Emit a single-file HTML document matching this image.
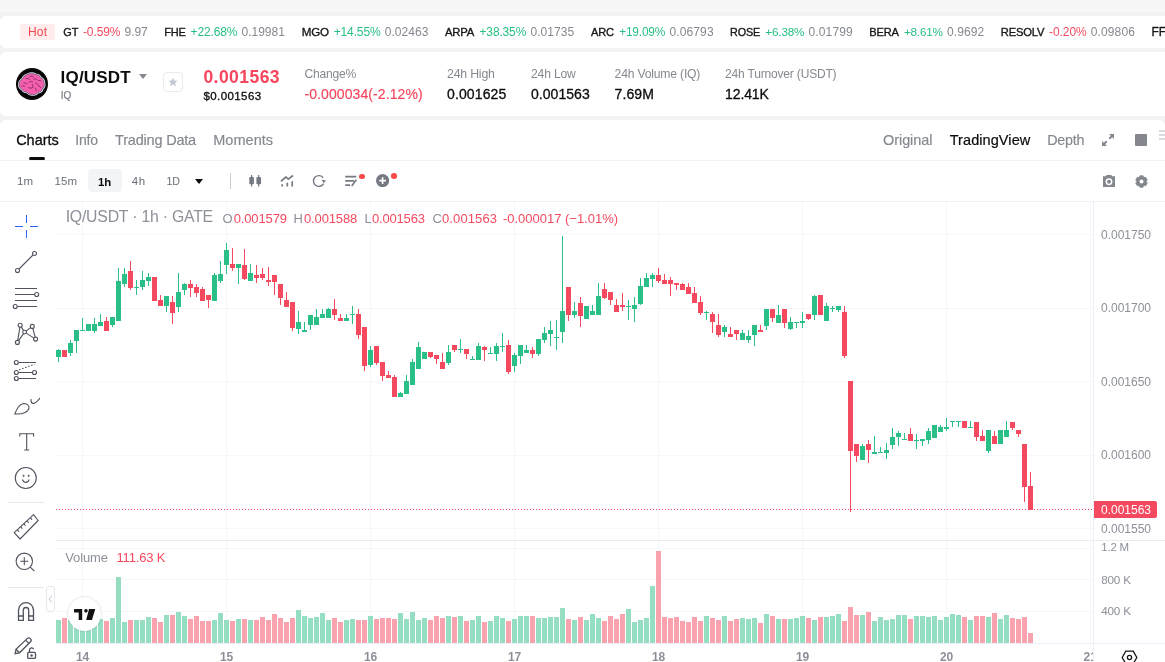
<!DOCTYPE html>
<html><head><meta charset="utf-8"><title>IQ/USDT</title>
<style>
html,body{margin:0;padding:0;}
body{width:1165px;height:662px;overflow:hidden;background:#f2f3f5;font-family:"Liberation Sans",sans-serif;}
#p{will-change:transform;position:relative;width:1165px;height:662px;overflow:hidden;background:#f2f3f5;}
.t{position:absolute;white-space:nowrap;display:block;}
.r{position:absolute;display:block;}
</style></head><body><div id="p">
<div class="r" style="left:0px;top:0px;width:1165px;height:12px;background:#f7f7f8;"></div>
<div class="r" style="left:0px;top:16px;width:1175px;height:32px;background:#fff;border-radius:6px;"></div>
<div class="r" style="left:0px;top:52px;width:1175px;height:64px;background:#fff;border-radius:6px;"></div>
<div class="r" style="left:0px;top:120px;width:1165px;height:560px;background:#fff;border-radius:6px 6px 0 0;"></div>
<div class="r" style="left:20px;top:24px;width:35px;height:16px;background:#ffecec;border-radius:3px;"></div>
<span class="t" style="left:28.00px;top:24.00px;font-size:12px;line-height:16px;color:#f4484c;letter-spacing:0.163px;">Hot</span>
<span class="t" style="left:63.30px;top:24.00px;font-size:10.9px;line-height:16px;color:#15171a;letter-spacing:-0.137px;-webkit-text-stroke:0.35px #15171a;">GT</span>
<span class="t" style="left:82.90px;top:24.00px;font-size:12px;line-height:16px;color:#f5495f;letter-spacing:-0.084px;">-0.59%</span>
<span class="t" style="left:124.60px;top:24.00px;font-size:12px;line-height:16px;color:#84888f;letter-spacing:-0.052px;">9.97</span>
<span class="t" style="left:164.30px;top:24.00px;font-size:11.0px;line-height:16px;color:#15171a;letter-spacing:-0.200px;-webkit-text-stroke:0.35px #15171a;">FHE</span>
<span class="t" style="left:190.60px;top:24.00px;font-size:12px;line-height:16px;color:#26bf82;letter-spacing:-0.151px;">+22.68%</span>
<span class="t" style="left:241.50px;top:24.00px;font-size:12px;line-height:16px;color:#84888f;letter-spacing:-0.013px;">0.19981</span>
<span class="t" style="left:301.80px;top:24.00px;font-size:11.6px;line-height:16px;color:#15171a;letter-spacing:-0.204px;-webkit-text-stroke:0.35px #15171a;">MGO</span>
<span class="t" style="left:333.70px;top:24.00px;font-size:12px;line-height:16px;color:#26bf82;letter-spacing:-0.135px;">+14.55%</span>
<span class="t" style="left:384.70px;top:24.00px;font-size:12px;line-height:16px;color:#84888f;letter-spacing:0.070px;">0.02463</span>
<span class="t" style="left:445.00px;top:24.00px;font-size:11.3px;line-height:16px;color:#15171a;letter-spacing:-0.211px;-webkit-text-stroke:0.35px #15171a;">ARPA</span>
<span class="t" style="left:479.50px;top:24.00px;font-size:12px;line-height:16px;color:#26bf82;letter-spacing:-0.151px;">+38.35%</span>
<span class="t" style="left:530.50px;top:24.00px;font-size:12px;line-height:16px;color:#84888f;letter-spacing:0.054px;">0.01735</span>
<span class="t" style="left:591.00px;top:24.00px;font-size:11.1px;line-height:16px;color:#15171a;letter-spacing:-0.168px;-webkit-text-stroke:0.35px #15171a;">ARC</span>
<span class="t" style="left:619.20px;top:24.00px;font-size:11.9px;line-height:16px;color:#26bf82;letter-spacing:-0.185px;">+19.09%</span>
<span class="t" style="left:669.40px;top:24.00px;font-size:12px;line-height:16px;color:#84888f;letter-spacing:0.137px;">0.06793</span>
<span class="t" style="left:730.10px;top:24.00px;font-size:10.8px;line-height:16px;color:#15171a;letter-spacing:-0.136px;-webkit-text-stroke:0.35px #15171a;">ROSE</span>
<span class="t" style="left:765.30px;top:24.00px;font-size:11.7px;line-height:16px;color:#26bf82;letter-spacing:-0.162px;">+6.38%</span>
<span class="t" style="left:808.50px;top:24.00px;font-size:12px;line-height:16px;color:#84888f;letter-spacing:0.137px;">0.01799</span>
<span class="t" style="left:869.20px;top:24.00px;font-size:11.1px;line-height:16px;color:#15171a;letter-spacing:-0.176px;-webkit-text-stroke:0.35px #15171a;">BERA</span>
<span class="t" style="left:903.90px;top:24.00px;font-size:11.7px;line-height:16px;color:#26bf82;letter-spacing:-0.182px;">+8.61%</span>
<span class="t" style="left:947.10px;top:24.00px;font-size:12px;line-height:16px;color:#84888f;letter-spacing:0.079px;">0.9692</span>
<span class="t" style="left:1000.80px;top:24.00px;font-size:11.2px;line-height:16px;color:#15171a;letter-spacing:-0.182px;-webkit-text-stroke:0.35px #15171a;">RESOLV</span>
<span class="t" style="left:1049.00px;top:24.00px;font-size:12px;line-height:16px;color:#f5495f;letter-spacing:-0.064px;">-0.20%</span>
<span class="t" style="left:1090.70px;top:24.00px;font-size:12px;line-height:16px;color:#84888f;letter-spacing:0.137px;">0.09806</span>
<span class="t" style="left:1151.40px;top:24.00px;font-size:12px;line-height:16px;color:#15171a;letter-spacing:-0.061px;-webkit-text-stroke:0.35px #15171a;">FF</span>
<svg class="r" style="left:16.300px;top:68px" width="32" height="32" viewBox="0 0 32 32">
<circle cx="16" cy="16" r="16" fill="#060607"/>
<path d="M12.15 6.08Q8.00 6.88 6.41 10.75Q2.80 13.19 3.09 16.53Q2.67 19.48 6.13 21.47Q7.10 24.20 11.01 24.23Q13.48 27.42 16.75 26.69Q20.04 27.47 21.92 24.50Q25.79 23.94 26.51 20.92Q29.35 18.19 28.23 14.87Q28.38 11.57 24.79 9.65Q23.43 6.42 19.62 6.35Q15.90 4.22 12.15 6.08Z" fill="#f45fae" stroke="#e9f1f4" stroke-width="1.900" stroke-linejoin="round"/>
<path d="M12.15 6.08Q8.00 6.88 6.41 10.75Q2.80 13.19 3.09 16.53Q2.67 19.48 6.13 21.47Q7.10 24.20 11.01 24.23Q13.48 27.42 16.75 26.69Q20.04 27.47 21.92 24.50Q25.79 23.94 26.51 20.92Q29.35 18.19 28.23 14.87Q28.38 11.57 24.79 9.65Q23.43 6.42 19.62 6.35Q15.90 4.22 12.15 6.08Z" fill="#f45fae" stroke="#164a5c" stroke-width=".5" stroke-linejoin="round"/>
<path d="M10 10.500c1.500-.4 2.700 0 3.600.9M14 8.500c1.200-.6 2.500-.4 3.400.4M17.500 11c1.400-.6 3-.2 3.900 1M8 15c1.300-.3 2.400.1 3.100 1M13 14.500c.9-1 2.300-1.300 3.500-.7M16.500 16.500c.7 1.200.5 2.400-.3 3.300M19.500 15c1.300.2 2.200 1 2.500 2.200M12.500 19.500c1 .8 2.300.9 3.400.3M19 20c.9.600 1.400 1.500 1.300 2.600M22.500 18c1 .1 1.800.6 2.300 1.500M6 18c1-.5 2-.3 2.800.3M22.500 12.500c.9-.3 1.800 0 2.500.6" fill="none" stroke="#4a1035" stroke-width=".6" stroke-linecap="round"/>
</svg>
<span class="t" style="left:60.60px;top:66.70px;font-size:17px;line-height:21px;color:#0b0c0e;font-weight:700;letter-spacing:0.192px;">IQ/USDT</span>
<div class="r" style="left:139px;top:74px;width:0;height:0;border-left:4px solid transparent;border-right:4px solid transparent;border-top:5px solid #84888f;"></div>
<span class="t" style="left:60.80px;top:88.25px;font-size:10.1px;line-height:15.5px;color:#7b7f87;letter-spacing:-0.162px;-webkit-text-stroke:0.2px #7b7f87;">IQ</span>
<div class="r" style="left:163px;top:72px;width:20px;height:20px;background:#fff;border:1px solid #e9ebf0;border-radius:4px;box-sizing:border-box;"></div>
<svg class="r" style="left:168px;top:77px" width="10" height="10" viewBox="0 0 24 24"><path d="M12 1.500l3.200 7 7.600.8-5.700 5.100 1.600 7.500L12 18l-6.700 3.900 1.600-7.500L1.200 9.300l7.600-.8z" fill="#c5c8d6"/></svg>
<span class="t" style="left:203.40px;top:66.55px;font-size:17.5px;line-height:21.5px;color:#f5465d;font-weight:700;letter-spacing:0.458px;">0.001563</span>
<span class="t" style="left:203.40px;top:88.55px;font-size:11.5px;line-height:15.5px;color:#0b0c0e;letter-spacing:0.417px;-webkit-text-stroke:0.3px #0b0c0e;">$0.001563</span>
<span class="t" style="left:304.40px;top:65.75px;font-size:12.1px;line-height:16.5px;color:#84888f;letter-spacing:-0.191px;">Change%</span>
<span class="t" style="left:304.40px;top:84.50px;font-size:14px;line-height:18px;color:#f5465d;letter-spacing:0.091px;-webkit-text-stroke:0.15px #f5465d;">-0.000034(-2.12%)</span>
<span class="t" style="left:447.00px;top:65.75px;font-size:12.3px;line-height:16.5px;color:#84888f;letter-spacing:-0.191px;">24h High</span>
<span class="t" style="left:447.00px;top:84.50px;font-size:14px;line-height:18px;color:#0b0c0e;letter-spacing:0.129px;-webkit-text-stroke:0.3px #0b0c0e;">0.001625</span>
<span class="t" style="left:531.00px;top:65.75px;font-size:12.1px;line-height:16.5px;color:#84888f;letter-spacing:-0.158px;">24h Low</span>
<span class="t" style="left:531.00px;top:84.50px;font-size:14px;line-height:18px;color:#0b0c0e;letter-spacing:0.044px;-webkit-text-stroke:0.3px #0b0c0e;">0.001563</span>
<span class="t" style="left:614.60px;top:65.75px;font-size:12.2px;line-height:16.5px;color:#84888f;letter-spacing:-0.210px;">24h Volume (IQ)</span>
<span class="t" style="left:614.60px;top:84.50px;font-size:14px;line-height:18px;color:#0b0c0e;letter-spacing:0.072px;-webkit-text-stroke:0.3px #0b0c0e;">7.69M</span>
<span class="t" style="left:725.10px;top:65.75px;font-size:12.0px;line-height:16.5px;color:#84888f;letter-spacing:-0.178px;">24h Turnover (USDT)</span>
<span class="t" style="left:725.10px;top:84.50px;font-size:14px;line-height:18px;color:#0b0c0e;letter-spacing:-0.135px;-webkit-text-stroke:0.3px #0b0c0e;">12.41K</span>
<span class="t" style="left:16.20px;top:130.75px;font-size:14.5px;line-height:18.5px;color:#0b0c0e;letter-spacing:-0.042px;-webkit-text-stroke:0.3px #0b0c0e;">Charts</span>
<span class="t" style="left:75.30px;top:130.75px;font-size:14.0px;line-height:18.5px;color:#84888f;letter-spacing:-0.184px;-webkit-text-stroke:0.15px #84888f;">Info</span>
<span class="t" style="left:115.10px;top:130.75px;font-size:14.5px;line-height:18.5px;color:#84888f;letter-spacing:-0.199px;-webkit-text-stroke:0.15px #84888f;">Trading Data</span>
<span class="t" style="left:213.20px;top:130.75px;font-size:14.5px;line-height:18.5px;color:#84888f;letter-spacing:0.045px;-webkit-text-stroke:0.15px #84888f;">Moments</span>
<div class="r" style="left:29px;top:157px;width:16px;height:3px;background:#0b0c0e;border-radius:1.5px;"></div>
<div class="r" style="left:0px;top:160px;width:1165px;height:1px;background:#f0f2f4;"></div>
<span class="t" style="left:883.00px;top:130.75px;font-size:14.5px;line-height:18.5px;color:#84888f;letter-spacing:-0.067px;-webkit-text-stroke:0.15px #84888f;">Original</span>
<span class="t" style="left:949.70px;top:130.75px;font-size:14.5px;line-height:18.5px;color:#0b0c0e;letter-spacing:0.080px;-webkit-text-stroke:0.2px #0b0c0e;">TradingView</span>
<span class="t" style="left:1047.20px;top:130.75px;font-size:14.3px;line-height:18.5px;color:#84888f;letter-spacing:-0.215px;-webkit-text-stroke:0.15px #84888f;">Depth</span>
<svg class="r" style="left:1102px;top:134px" width="12" height="12" viewBox="0 0 12 12"><path d="M7 0h5v5l-1.800-1.800L8 5.400 6.600 4 8.800 1.800zM5 12H0V7l1.800 1.800L4 6.600 5.400 8 3.200 10.200z" fill="#84888e"/></svg>
<div class="r" style="left:1135px;top:134px;width:12px;height:12px;background:#84888e;border-radius:1px;"></div>
<div class="r" style="left:1159px;top:130px;width:8px;height:2px;background:#d8dbe2;"></div>
<div class="r" style="left:1159px;top:134px;width:8px;height:2px;background:#d8dbe2;"></div>
<div class="r" style="left:1159px;top:138px;width:8px;height:2px;background:#d8dbe2;"></div>
<span class="t" style="left:17.00px;top:174.25px;font-size:11.5px;line-height:15.5px;color:#6b6f78;letter-spacing:0.224px;">1m</span>
<span class="t" style="left:54.50px;top:174.25px;font-size:11.5px;line-height:15.5px;color:#6b6f78;letter-spacing:0.164px;">15m</span>
<div class="r" style="left:88px;top:169px;width:34px;height:23px;background:#f3f4f6;border-radius:4px;"></div>
<span class="t" style="left:98.10px;top:173.50px;font-size:11.4px;line-height:16px;color:#0b0c0e;font-weight:700;letter-spacing:-0.204px;">1h</span>
<span class="t" style="left:131.70px;top:174.25px;font-size:11.5px;line-height:15.5px;color:#6b6f78;letter-spacing:0.708px;">4h</span>
<span class="t" style="left:166.50px;top:174.25px;font-size:10.7px;line-height:15.5px;color:#6b6f78;letter-spacing:-0.178px;">1D</span>
<div class="r" style="left:195px;top:179px;width:0;height:0;border-left:4px solid transparent;border-right:4px solid transparent;border-top:5px solid #0b0c0e;"></div>
<div class="r" style="left:230px;top:173px;width:1px;height:16px;background:#c9ccd3;"></div>
<svg class="r" style="left:248px;top:174px" width="14" height="14" viewBox="0 0 14 14" fill="#757982"><rect x="1.300" y="3" width="4.600" height="7.300" rx=".8"/><rect x="3" y="1" width="1.200" height="11.600"/><rect x="8.400" y="3" width="4.600" height="7.300" rx=".8"/><rect x="10.100" y="1" width="1.200" height="11.600"/></svg>
<svg class="r" style="left:280px;top:174px" width="14" height="14" viewBox="0 0 14 14" fill="none" stroke="#757982" stroke-width="1.700"><path d="M.9 7.400L6 3l2.300 2.200L13 1.500" stroke-linejoin="round"/><path d="M2.200 12.600v-2.300M7.300 12.600V8.800M12.200 12.600V7.200" stroke-width="1.700"/></svg>
<svg class="r" style="left:312px;top:174px" width="14" height="14" viewBox="0 0 14 14" fill="none" stroke="#757982" stroke-width="1.400"><path d="M11.600 9.600A5.400 5.400 0 1 1 11.300 3.900"/><path d="M9.600 5.800l4.200.4-2 3z" fill="#757982" stroke="none"/></svg>
<svg class="r" style="left:344px;top:174px" width="15" height="14" viewBox="0 0 15 14" fill="none" stroke="#757982" stroke-width="1.600"><path d="M1.200 2.600h11.100M1.200 6.900H10M1.200 11.100h4.900"/><path d="M7.700 11.900l4.600-6.200" stroke-width="1.700"/></svg>
<div class="r" style="left:359.3px;top:173.5px;width:5.6px;height:5.6px;background:#f84c4c;border-radius:50%;"></div>
<svg class="r" style="left:376px;top:174.300px" width="13.200" height="13.200" viewBox="0 0 12 12"><circle cx="6" cy="6" r="6" fill="#757982"/><path d="M6 3v6M3 6h6" stroke="#fff" stroke-width="1.500"/></svg>
<div class="r" style="left:391.2px;top:173.2px;width:5.6px;height:5.6px;background:#f84c4c;border-radius:50%;"></div>
<svg class="r" style="left:1103px;top:175px" width="12" height="12" viewBox="0 0 12 12"><path d="M3.600 0h4.800l.6 1.300H12V12H0V1.300h3z" fill="#83878d"/><circle cx="6" cy="6.700" r="2.700" fill="none" stroke="#fff" stroke-width="1.500"/></svg>
<svg class="r" style="left:1134.500px;top:174.500px" width="13" height="13" viewBox="-6.500 -6.500 13 13"><polygon points="1.55,-5.80 -1.55,-5.80 -2.35,-4.07 -4.24,-4.24 -5.80,-1.55 -4.70,-0.00 -5.80,1.55 -4.24,4.24 -2.35,4.07 -1.55,5.80 1.55,5.80 2.35,4.07 4.24,4.24 5.80,1.55 4.70,0.00 5.80,-1.55 4.24,-4.24 2.35,-4.07" fill="#83878d" stroke="#83878d" stroke-width=".7" stroke-linejoin="round"/><circle r="2" fill="#fff"/></svg>
<div class="r" style="left:0px;top:201px;width:1165px;height:1px;background:#f0f2f4;"></div>
<svg class="r" style="left:0;top:0" width="1165" height="662" viewBox="0 0 1165 662" shape-rendering="crispEdges"><rect x="82" y="202" width="1" height="441" fill="#f6f7fb"/><rect x="226" y="202" width="1" height="441" fill="#f6f7fb"/><rect x="370" y="202" width="1" height="441" fill="#f6f7fb"/><rect x="514" y="202" width="1" height="441" fill="#f6f7fb"/><rect x="658" y="202" width="1" height="441" fill="#f6f7fb"/><rect x="802" y="202" width="1" height="441" fill="#f6f7fb"/><rect x="946" y="202" width="1" height="441" fill="#f6f7fb"/><rect x="1090" y="202" width="1" height="441" fill="#f6f7fb"/><rect x="56" y="234" width="1037" height="1" fill="#f6f7fb"/><rect x="56" y="308" width="1037" height="1" fill="#f6f7fb"/><rect x="56" y="381" width="1037" height="1" fill="#f6f7fb"/><rect x="56" y="455" width="1037" height="1" fill="#f6f7fb"/><rect x="56" y="528" width="1037" height="1" fill="#f6f7fb"/><rect x="56" y="548" width="1037" height="1" fill="#f6f7fb"/><rect x="56" y="579" width="1037" height="1" fill="#f6f7fb"/><rect x="56" y="611" width="1037" height="1" fill="#f6f7fb"/><rect x="1093" y="202" width="1" height="460" fill="#eceff9"/><rect x="56" y="643" width="1109" height="1" fill="#eceff9"/><rect x="56" y="540" width="1109" height="1" fill="#ebebed"/><rect x="56" y="620" width="5" height="23" fill="#95dec2"/><rect x="62" y="618" width="5" height="25" fill="#faa3ae"/><rect x="68" y="620" width="5" height="23" fill="#95dec2"/><rect x="74" y="619" width="5" height="24" fill="#95dec2"/><rect x="80" y="620" width="5" height="23" fill="#95dec2"/><rect x="86" y="621" width="5" height="22" fill="#95dec2"/><rect x="92" y="620" width="5" height="23" fill="#95dec2"/><rect x="98" y="619" width="5" height="24" fill="#95dec2"/><rect x="104" y="621" width="5" height="22" fill="#faa3ae"/><rect x="110" y="618" width="5" height="25" fill="#95dec2"/><rect x="116" y="577" width="5" height="66" fill="#95dec2"/><rect x="122" y="622" width="5" height="21" fill="#95dec2"/><rect x="128" y="620" width="5" height="23" fill="#faa3ae"/><rect x="134" y="620" width="5" height="23" fill="#95dec2"/><rect x="140" y="620" width="5" height="23" fill="#95dec2"/><rect x="146" y="617" width="5" height="26" fill="#95dec2"/><rect x="152" y="618" width="5" height="25" fill="#faa3ae"/><rect x="158" y="622" width="5" height="21" fill="#faa3ae"/><rect x="164" y="615" width="5" height="28" fill="#95dec2"/><rect x="170" y="615" width="5" height="28" fill="#faa3ae"/><rect x="176" y="612" width="5" height="31" fill="#95dec2"/><rect x="182" y="616" width="5" height="27" fill="#95dec2"/><rect x="188" y="619" width="5" height="24" fill="#faa3ae"/><rect x="194" y="616" width="5" height="27" fill="#faa3ae"/><rect x="200" y="621" width="5" height="22" fill="#faa3ae"/><rect x="206" y="621" width="5" height="22" fill="#faa3ae"/><rect x="212" y="620" width="5" height="23" fill="#95dec2"/><rect x="218" y="613" width="5" height="30" fill="#95dec2"/><rect x="224" y="620" width="5" height="23" fill="#95dec2"/><rect x="230" y="621" width="5" height="22" fill="#faa3ae"/><rect x="236" y="619" width="5" height="24" fill="#95dec2"/><rect x="242" y="619" width="5" height="24" fill="#faa3ae"/><rect x="248" y="620" width="5" height="23" fill="#95dec2"/><rect x="254" y="620" width="5" height="23" fill="#faa3ae"/><rect x="260" y="617" width="5" height="26" fill="#faa3ae"/><rect x="266" y="620" width="5" height="23" fill="#faa3ae"/><rect x="272" y="614" width="5" height="29" fill="#faa3ae"/><rect x="278" y="618" width="5" height="25" fill="#faa3ae"/><rect x="284" y="622" width="5" height="21" fill="#faa3ae"/><rect x="290" y="618" width="5" height="25" fill="#faa3ae"/><rect x="296" y="610" width="5" height="33" fill="#95dec2"/><rect x="302" y="616" width="5" height="27" fill="#95dec2"/><rect x="308" y="618" width="5" height="25" fill="#95dec2"/><rect x="314" y="617" width="5" height="26" fill="#95dec2"/><rect x="320" y="613" width="5" height="30" fill="#95dec2"/><rect x="326" y="620" width="5" height="23" fill="#95dec2"/><rect x="332" y="618" width="5" height="25" fill="#faa3ae"/><rect x="338" y="622" width="5" height="21" fill="#faa3ae"/><rect x="344" y="620" width="5" height="23" fill="#95dec2"/><rect x="350" y="619" width="5" height="24" fill="#95dec2"/><rect x="356" y="620" width="5" height="23" fill="#faa3ae"/><rect x="362" y="620" width="5" height="23" fill="#faa3ae"/><rect x="368" y="616" width="5" height="27" fill="#95dec2"/><rect x="374" y="619" width="5" height="24" fill="#faa3ae"/><rect x="380" y="618" width="5" height="25" fill="#faa3ae"/><rect x="386" y="618" width="5" height="25" fill="#faa3ae"/><rect x="392" y="619" width="5" height="24" fill="#faa3ae"/><rect x="398" y="613" width="5" height="30" fill="#95dec2"/><rect x="404" y="619" width="5" height="24" fill="#95dec2"/><rect x="410" y="612" width="5" height="31" fill="#95dec2"/><rect x="416" y="620" width="5" height="23" fill="#95dec2"/><rect x="422" y="618" width="5" height="25" fill="#95dec2"/><rect x="428" y="620" width="5" height="23" fill="#faa3ae"/><rect x="434" y="616" width="5" height="27" fill="#faa3ae"/><rect x="440" y="618" width="5" height="25" fill="#faa3ae"/><rect x="446" y="616" width="5" height="27" fill="#95dec2"/><rect x="452" y="617" width="5" height="26" fill="#faa3ae"/><rect x="458" y="616" width="5" height="27" fill="#95dec2"/><rect x="464" y="621" width="5" height="22" fill="#faa3ae"/><rect x="470" y="620" width="5" height="23" fill="#95dec2"/><rect x="476" y="616" width="5" height="27" fill="#95dec2"/><rect x="482" y="622" width="5" height="21" fill="#faa3ae"/><rect x="488" y="621" width="5" height="22" fill="#95dec2"/><rect x="494" y="616" width="5" height="27" fill="#95dec2"/><rect x="500" y="618" width="5" height="25" fill="#95dec2"/><rect x="506" y="621" width="5" height="22" fill="#faa3ae"/><rect x="512" y="619" width="5" height="24" fill="#95dec2"/><rect x="518" y="616" width="5" height="27" fill="#95dec2"/><rect x="524" y="616" width="5" height="27" fill="#95dec2"/><rect x="530" y="616" width="5" height="27" fill="#faa3ae"/><rect x="536" y="618" width="5" height="25" fill="#95dec2"/><rect x="542" y="618" width="5" height="25" fill="#95dec2"/><rect x="548" y="617" width="5" height="26" fill="#95dec2"/><rect x="554" y="617" width="5" height="26" fill="#95dec2"/><rect x="560" y="608" width="5" height="35" fill="#95dec2"/><rect x="566" y="619" width="5" height="24" fill="#faa3ae"/><rect x="572" y="620" width="5" height="23" fill="#95dec2"/><rect x="578" y="617" width="5" height="26" fill="#faa3ae"/><rect x="584" y="620" width="5" height="23" fill="#95dec2"/><rect x="590" y="614" width="5" height="29" fill="#95dec2"/><rect x="596" y="618" width="5" height="25" fill="#95dec2"/><rect x="602" y="621" width="5" height="22" fill="#faa3ae"/><rect x="608" y="616" width="5" height="27" fill="#faa3ae"/><rect x="614" y="619" width="5" height="24" fill="#faa3ae"/><rect x="620" y="614" width="5" height="29" fill="#faa3ae"/><rect x="626" y="609" width="5" height="34" fill="#95dec2"/><rect x="632" y="622" width="5" height="21" fill="#95dec2"/><rect x="638" y="620" width="5" height="23" fill="#95dec2"/><rect x="644" y="618" width="5" height="25" fill="#95dec2"/><rect x="650" y="586" width="5" height="57" fill="#95dec2"/><rect x="656" y="551" width="5" height="92" fill="#faa3ae"/><rect x="662" y="617" width="5" height="26" fill="#faa3ae"/><rect x="668" y="618" width="5" height="25" fill="#faa3ae"/><rect x="674" y="617" width="5" height="26" fill="#faa3ae"/><rect x="680" y="621" width="5" height="22" fill="#faa3ae"/><rect x="686" y="622" width="5" height="21" fill="#faa3ae"/><rect x="692" y="617" width="5" height="26" fill="#faa3ae"/><rect x="698" y="621" width="5" height="22" fill="#faa3ae"/><rect x="704" y="616" width="5" height="27" fill="#95dec2"/><rect x="710" y="618" width="5" height="25" fill="#faa3ae"/><rect x="716" y="620" width="5" height="23" fill="#faa3ae"/><rect x="722" y="616" width="5" height="27" fill="#95dec2"/><rect x="728" y="621" width="5" height="22" fill="#faa3ae"/><rect x="734" y="619" width="5" height="24" fill="#faa3ae"/><rect x="740" y="618" width="5" height="25" fill="#95dec2"/><rect x="746" y="619" width="5" height="24" fill="#95dec2"/><rect x="752" y="618" width="5" height="25" fill="#95dec2"/><rect x="758" y="623" width="5" height="20" fill="#faa3ae"/><rect x="764" y="614" width="5" height="29" fill="#95dec2"/><rect x="770" y="616" width="5" height="27" fill="#faa3ae"/><rect x="776" y="619" width="5" height="24" fill="#95dec2"/><rect x="782" y="619" width="5" height="24" fill="#faa3ae"/><rect x="788" y="619" width="5" height="24" fill="#95dec2"/><rect x="794" y="618" width="5" height="25" fill="#95dec2"/><rect x="800" y="616" width="5" height="27" fill="#95dec2"/><rect x="806" y="618" width="5" height="25" fill="#faa3ae"/><rect x="812" y="620" width="5" height="23" fill="#95dec2"/><rect x="818" y="617" width="5" height="26" fill="#faa3ae"/><rect x="824" y="617" width="5" height="26" fill="#95dec2"/><rect x="830" y="616" width="5" height="27" fill="#95dec2"/><rect x="836" y="614" width="5" height="29" fill="#95dec2"/><rect x="842" y="621" width="5" height="22" fill="#faa3ae"/><rect x="848" y="607" width="5" height="36" fill="#faa3ae"/><rect x="854" y="615" width="5" height="28" fill="#faa3ae"/><rect x="860" y="615" width="5" height="28" fill="#95dec2"/><rect x="866" y="612" width="5" height="31" fill="#faa3ae"/><rect x="872" y="621" width="5" height="22" fill="#95dec2"/><rect x="878" y="617" width="5" height="26" fill="#95dec2"/><rect x="884" y="620" width="5" height="23" fill="#95dec2"/><rect x="890" y="619" width="5" height="24" fill="#95dec2"/><rect x="896" y="615" width="5" height="28" fill="#95dec2"/><rect x="902" y="615" width="5" height="28" fill="#95dec2"/><rect x="908" y="619" width="5" height="24" fill="#faa3ae"/><rect x="914" y="616" width="5" height="27" fill="#95dec2"/><rect x="920" y="616" width="5" height="27" fill="#95dec2"/><rect x="926" y="617" width="5" height="26" fill="#95dec2"/><rect x="932" y="616" width="5" height="27" fill="#95dec2"/><rect x="938" y="620" width="5" height="23" fill="#95dec2"/><rect x="944" y="617" width="5" height="26" fill="#95dec2"/><rect x="950" y="614" width="5" height="29" fill="#95dec2"/><rect x="956" y="615" width="5" height="28" fill="#95dec2"/><rect x="962" y="617" width="5" height="26" fill="#faa3ae"/><rect x="968" y="620" width="5" height="23" fill="#95dec2"/><rect x="974" y="616" width="5" height="27" fill="#faa3ae"/><rect x="980" y="616" width="5" height="27" fill="#faa3ae"/><rect x="986" y="617" width="5" height="26" fill="#95dec2"/><rect x="992" y="613" width="5" height="30" fill="#faa3ae"/><rect x="998" y="619" width="5" height="24" fill="#95dec2"/><rect x="1004" y="615" width="5" height="28" fill="#95dec2"/><rect x="1010" y="618" width="5" height="25" fill="#faa3ae"/><rect x="1016" y="619" width="5" height="24" fill="#faa3ae"/><rect x="1022" y="617" width="5" height="26" fill="#faa3ae"/><rect x="1028" y="633" width="5" height="10" fill="#faa3ae"/><rect x="56" y="509" width="1" height="1" fill="#f5495f"/><rect x="59" y="509" width="1" height="1" fill="#f5495f"/><rect x="62" y="509" width="1" height="1" fill="#f5495f"/><rect x="65" y="509" width="1" height="1" fill="#f5495f"/><rect x="68" y="509" width="1" height="1" fill="#f5495f"/><rect x="71" y="509" width="1" height="1" fill="#f5495f"/><rect x="74" y="509" width="1" height="1" fill="#f5495f"/><rect x="77" y="509" width="1" height="1" fill="#f5495f"/><rect x="80" y="509" width="1" height="1" fill="#f5495f"/><rect x="83" y="509" width="1" height="1" fill="#f5495f"/><rect x="86" y="509" width="1" height="1" fill="#f5495f"/><rect x="89" y="509" width="1" height="1" fill="#f5495f"/><rect x="92" y="509" width="1" height="1" fill="#f5495f"/><rect x="95" y="509" width="1" height="1" fill="#f5495f"/><rect x="98" y="509" width="1" height="1" fill="#f5495f"/><rect x="101" y="509" width="1" height="1" fill="#f5495f"/><rect x="104" y="509" width="1" height="1" fill="#f5495f"/><rect x="107" y="509" width="1" height="1" fill="#f5495f"/><rect x="110" y="509" width="1" height="1" fill="#f5495f"/><rect x="113" y="509" width="1" height="1" fill="#f5495f"/><rect x="116" y="509" width="1" height="1" fill="#f5495f"/><rect x="119" y="509" width="1" height="1" fill="#f5495f"/><rect x="122" y="509" width="1" height="1" fill="#f5495f"/><rect x="125" y="509" width="1" height="1" fill="#f5495f"/><rect x="128" y="509" width="1" height="1" fill="#f5495f"/><rect x="131" y="509" width="1" height="1" fill="#f5495f"/><rect x="134" y="509" width="1" height="1" fill="#f5495f"/><rect x="137" y="509" width="1" height="1" fill="#f5495f"/><rect x="140" y="509" width="1" height="1" fill="#f5495f"/><rect x="143" y="509" width="1" height="1" fill="#f5495f"/><rect x="146" y="509" width="1" height="1" fill="#f5495f"/><rect x="149" y="509" width="1" height="1" fill="#f5495f"/><rect x="152" y="509" width="1" height="1" fill="#f5495f"/><rect x="155" y="509" width="1" height="1" fill="#f5495f"/><rect x="158" y="509" width="1" height="1" fill="#f5495f"/><rect x="161" y="509" width="1" height="1" fill="#f5495f"/><rect x="164" y="509" width="1" height="1" fill="#f5495f"/><rect x="167" y="509" width="1" height="1" fill="#f5495f"/><rect x="170" y="509" width="1" height="1" fill="#f5495f"/><rect x="173" y="509" width="1" height="1" fill="#f5495f"/><rect x="176" y="509" width="1" height="1" fill="#f5495f"/><rect x="179" y="509" width="1" height="1" fill="#f5495f"/><rect x="182" y="509" width="1" height="1" fill="#f5495f"/><rect x="185" y="509" width="1" height="1" fill="#f5495f"/><rect x="188" y="509" width="1" height="1" fill="#f5495f"/><rect x="191" y="509" width="1" height="1" fill="#f5495f"/><rect x="194" y="509" width="1" height="1" fill="#f5495f"/><rect x="197" y="509" width="1" height="1" fill="#f5495f"/><rect x="200" y="509" width="1" height="1" fill="#f5495f"/><rect x="203" y="509" width="1" height="1" fill="#f5495f"/><rect x="206" y="509" width="1" height="1" fill="#f5495f"/><rect x="209" y="509" width="1" height="1" fill="#f5495f"/><rect x="212" y="509" width="1" height="1" fill="#f5495f"/><rect x="215" y="509" width="1" height="1" fill="#f5495f"/><rect x="218" y="509" width="1" height="1" fill="#f5495f"/><rect x="221" y="509" width="1" height="1" fill="#f5495f"/><rect x="224" y="509" width="1" height="1" fill="#f5495f"/><rect x="227" y="509" width="1" height="1" fill="#f5495f"/><rect x="230" y="509" width="1" height="1" fill="#f5495f"/><rect x="233" y="509" width="1" height="1" fill="#f5495f"/><rect x="236" y="509" width="1" height="1" fill="#f5495f"/><rect x="239" y="509" width="1" height="1" fill="#f5495f"/><rect x="242" y="509" width="1" height="1" fill="#f5495f"/><rect x="245" y="509" width="1" height="1" fill="#f5495f"/><rect x="248" y="509" width="1" height="1" fill="#f5495f"/><rect x="251" y="509" width="1" height="1" fill="#f5495f"/><rect x="254" y="509" width="1" height="1" fill="#f5495f"/><rect x="257" y="509" width="1" height="1" fill="#f5495f"/><rect x="260" y="509" width="1" height="1" fill="#f5495f"/><rect x="263" y="509" width="1" height="1" fill="#f5495f"/><rect x="266" y="509" width="1" height="1" fill="#f5495f"/><rect x="269" y="509" width="1" height="1" fill="#f5495f"/><rect x="272" y="509" width="1" height="1" fill="#f5495f"/><rect x="275" y="509" width="1" height="1" fill="#f5495f"/><rect x="278" y="509" width="1" height="1" fill="#f5495f"/><rect x="281" y="509" width="1" height="1" fill="#f5495f"/><rect x="284" y="509" width="1" height="1" fill="#f5495f"/><rect x="287" y="509" width="1" height="1" fill="#f5495f"/><rect x="290" y="509" width="1" height="1" fill="#f5495f"/><rect x="293" y="509" width="1" height="1" fill="#f5495f"/><rect x="296" y="509" width="1" height="1" fill="#f5495f"/><rect x="299" y="509" width="1" height="1" fill="#f5495f"/><rect x="302" y="509" width="1" height="1" fill="#f5495f"/><rect x="305" y="509" width="1" height="1" fill="#f5495f"/><rect x="308" y="509" width="1" height="1" fill="#f5495f"/><rect x="311" y="509" width="1" height="1" fill="#f5495f"/><rect x="314" y="509" width="1" height="1" fill="#f5495f"/><rect x="317" y="509" width="1" height="1" fill="#f5495f"/><rect x="320" y="509" width="1" height="1" fill="#f5495f"/><rect x="323" y="509" width="1" height="1" fill="#f5495f"/><rect x="326" y="509" width="1" height="1" fill="#f5495f"/><rect x="329" y="509" width="1" height="1" fill="#f5495f"/><rect x="332" y="509" width="1" height="1" fill="#f5495f"/><rect x="335" y="509" width="1" height="1" fill="#f5495f"/><rect x="338" y="509" width="1" height="1" fill="#f5495f"/><rect x="341" y="509" width="1" height="1" fill="#f5495f"/><rect x="344" y="509" width="1" height="1" fill="#f5495f"/><rect x="347" y="509" width="1" height="1" fill="#f5495f"/><rect x="350" y="509" width="1" height="1" fill="#f5495f"/><rect x="353" y="509" width="1" height="1" fill="#f5495f"/><rect x="356" y="509" width="1" height="1" fill="#f5495f"/><rect x="359" y="509" width="1" height="1" fill="#f5495f"/><rect x="362" y="509" width="1" height="1" fill="#f5495f"/><rect x="365" y="509" width="1" height="1" fill="#f5495f"/><rect x="368" y="509" width="1" height="1" fill="#f5495f"/><rect x="371" y="509" width="1" height="1" fill="#f5495f"/><rect x="374" y="509" width="1" height="1" fill="#f5495f"/><rect x="377" y="509" width="1" height="1" fill="#f5495f"/><rect x="380" y="509" width="1" height="1" fill="#f5495f"/><rect x="383" y="509" width="1" height="1" fill="#f5495f"/><rect x="386" y="509" width="1" height="1" fill="#f5495f"/><rect x="389" y="509" width="1" height="1" fill="#f5495f"/><rect x="392" y="509" width="1" height="1" fill="#f5495f"/><rect x="395" y="509" width="1" height="1" fill="#f5495f"/><rect x="398" y="509" width="1" height="1" fill="#f5495f"/><rect x="401" y="509" width="1" height="1" fill="#f5495f"/><rect x="404" y="509" width="1" height="1" fill="#f5495f"/><rect x="407" y="509" width="1" height="1" fill="#f5495f"/><rect x="410" y="509" width="1" height="1" fill="#f5495f"/><rect x="413" y="509" width="1" height="1" fill="#f5495f"/><rect x="416" y="509" width="1" height="1" fill="#f5495f"/><rect x="419" y="509" width="1" height="1" fill="#f5495f"/><rect x="422" y="509" width="1" height="1" fill="#f5495f"/><rect x="425" y="509" width="1" height="1" fill="#f5495f"/><rect x="428" y="509" width="1" height="1" fill="#f5495f"/><rect x="431" y="509" width="1" height="1" fill="#f5495f"/><rect x="434" y="509" width="1" height="1" fill="#f5495f"/><rect x="437" y="509" width="1" height="1" fill="#f5495f"/><rect x="440" y="509" width="1" height="1" fill="#f5495f"/><rect x="443" y="509" width="1" height="1" fill="#f5495f"/><rect x="446" y="509" width="1" height="1" fill="#f5495f"/><rect x="449" y="509" width="1" height="1" fill="#f5495f"/><rect x="452" y="509" width="1" height="1" fill="#f5495f"/><rect x="455" y="509" width="1" height="1" fill="#f5495f"/><rect x="458" y="509" width="1" height="1" fill="#f5495f"/><rect x="461" y="509" width="1" height="1" fill="#f5495f"/><rect x="464" y="509" width="1" height="1" fill="#f5495f"/><rect x="467" y="509" width="1" height="1" fill="#f5495f"/><rect x="470" y="509" width="1" height="1" fill="#f5495f"/><rect x="473" y="509" width="1" height="1" fill="#f5495f"/><rect x="476" y="509" width="1" height="1" fill="#f5495f"/><rect x="479" y="509" width="1" height="1" fill="#f5495f"/><rect x="482" y="509" width="1" height="1" fill="#f5495f"/><rect x="485" y="509" width="1" height="1" fill="#f5495f"/><rect x="488" y="509" width="1" height="1" fill="#f5495f"/><rect x="491" y="509" width="1" height="1" fill="#f5495f"/><rect x="494" y="509" width="1" height="1" fill="#f5495f"/><rect x="497" y="509" width="1" height="1" fill="#f5495f"/><rect x="500" y="509" width="1" height="1" fill="#f5495f"/><rect x="503" y="509" width="1" height="1" fill="#f5495f"/><rect x="506" y="509" width="1" height="1" fill="#f5495f"/><rect x="509" y="509" width="1" height="1" fill="#f5495f"/><rect x="512" y="509" width="1" height="1" fill="#f5495f"/><rect x="515" y="509" width="1" height="1" fill="#f5495f"/><rect x="518" y="509" width="1" height="1" fill="#f5495f"/><rect x="521" y="509" width="1" height="1" fill="#f5495f"/><rect x="524" y="509" width="1" height="1" fill="#f5495f"/><rect x="527" y="509" width="1" height="1" fill="#f5495f"/><rect x="530" y="509" width="1" height="1" fill="#f5495f"/><rect x="533" y="509" width="1" height="1" fill="#f5495f"/><rect x="536" y="509" width="1" height="1" fill="#f5495f"/><rect x="539" y="509" width="1" height="1" fill="#f5495f"/><rect x="542" y="509" width="1" height="1" fill="#f5495f"/><rect x="545" y="509" width="1" height="1" fill="#f5495f"/><rect x="548" y="509" width="1" height="1" fill="#f5495f"/><rect x="551" y="509" width="1" height="1" fill="#f5495f"/><rect x="554" y="509" width="1" height="1" fill="#f5495f"/><rect x="557" y="509" width="1" height="1" fill="#f5495f"/><rect x="560" y="509" width="1" height="1" fill="#f5495f"/><rect x="563" y="509" width="1" height="1" fill="#f5495f"/><rect x="566" y="509" width="1" height="1" fill="#f5495f"/><rect x="569" y="509" width="1" height="1" fill="#f5495f"/><rect x="572" y="509" width="1" height="1" fill="#f5495f"/><rect x="575" y="509" width="1" height="1" fill="#f5495f"/><rect x="578" y="509" width="1" height="1" fill="#f5495f"/><rect x="581" y="509" width="1" height="1" fill="#f5495f"/><rect x="584" y="509" width="1" height="1" fill="#f5495f"/><rect x="587" y="509" width="1" height="1" fill="#f5495f"/><rect x="590" y="509" width="1" height="1" fill="#f5495f"/><rect x="593" y="509" width="1" height="1" fill="#f5495f"/><rect x="596" y="509" width="1" height="1" fill="#f5495f"/><rect x="599" y="509" width="1" height="1" fill="#f5495f"/><rect x="602" y="509" width="1" height="1" fill="#f5495f"/><rect x="605" y="509" width="1" height="1" fill="#f5495f"/><rect x="608" y="509" width="1" height="1" fill="#f5495f"/><rect x="611" y="509" width="1" height="1" fill="#f5495f"/><rect x="614" y="509" width="1" height="1" fill="#f5495f"/><rect x="617" y="509" width="1" height="1" fill="#f5495f"/><rect x="620" y="509" width="1" height="1" fill="#f5495f"/><rect x="623" y="509" width="1" height="1" fill="#f5495f"/><rect x="626" y="509" width="1" height="1" fill="#f5495f"/><rect x="629" y="509" width="1" height="1" fill="#f5495f"/><rect x="632" y="509" width="1" height="1" fill="#f5495f"/><rect x="635" y="509" width="1" height="1" fill="#f5495f"/><rect x="638" y="509" width="1" height="1" fill="#f5495f"/><rect x="641" y="509" width="1" height="1" fill="#f5495f"/><rect x="644" y="509" width="1" height="1" fill="#f5495f"/><rect x="647" y="509" width="1" height="1" fill="#f5495f"/><rect x="650" y="509" width="1" height="1" fill="#f5495f"/><rect x="653" y="509" width="1" height="1" fill="#f5495f"/><rect x="656" y="509" width="1" height="1" fill="#f5495f"/><rect x="659" y="509" width="1" height="1" fill="#f5495f"/><rect x="662" y="509" width="1" height="1" fill="#f5495f"/><rect x="665" y="509" width="1" height="1" fill="#f5495f"/><rect x="668" y="509" width="1" height="1" fill="#f5495f"/><rect x="671" y="509" width="1" height="1" fill="#f5495f"/><rect x="674" y="509" width="1" height="1" fill="#f5495f"/><rect x="677" y="509" width="1" height="1" fill="#f5495f"/><rect x="680" y="509" width="1" height="1" fill="#f5495f"/><rect x="683" y="509" width="1" height="1" fill="#f5495f"/><rect x="686" y="509" width="1" height="1" fill="#f5495f"/><rect x="689" y="509" width="1" height="1" fill="#f5495f"/><rect x="692" y="509" width="1" height="1" fill="#f5495f"/><rect x="695" y="509" width="1" height="1" fill="#f5495f"/><rect x="698" y="509" width="1" height="1" fill="#f5495f"/><rect x="701" y="509" width="1" height="1" fill="#f5495f"/><rect x="704" y="509" width="1" height="1" fill="#f5495f"/><rect x="707" y="509" width="1" height="1" fill="#f5495f"/><rect x="710" y="509" width="1" height="1" fill="#f5495f"/><rect x="713" y="509" width="1" height="1" fill="#f5495f"/><rect x="716" y="509" width="1" height="1" fill="#f5495f"/><rect x="719" y="509" width="1" height="1" fill="#f5495f"/><rect x="722" y="509" width="1" height="1" fill="#f5495f"/><rect x="725" y="509" width="1" height="1" fill="#f5495f"/><rect x="728" y="509" width="1" height="1" fill="#f5495f"/><rect x="731" y="509" width="1" height="1" fill="#f5495f"/><rect x="734" y="509" width="1" height="1" fill="#f5495f"/><rect x="737" y="509" width="1" height="1" fill="#f5495f"/><rect x="740" y="509" width="1" height="1" fill="#f5495f"/><rect x="743" y="509" width="1" height="1" fill="#f5495f"/><rect x="746" y="509" width="1" height="1" fill="#f5495f"/><rect x="749" y="509" width="1" height="1" fill="#f5495f"/><rect x="752" y="509" width="1" height="1" fill="#f5495f"/><rect x="755" y="509" width="1" height="1" fill="#f5495f"/><rect x="758" y="509" width="1" height="1" fill="#f5495f"/><rect x="761" y="509" width="1" height="1" fill="#f5495f"/><rect x="764" y="509" width="1" height="1" fill="#f5495f"/><rect x="767" y="509" width="1" height="1" fill="#f5495f"/><rect x="770" y="509" width="1" height="1" fill="#f5495f"/><rect x="773" y="509" width="1" height="1" fill="#f5495f"/><rect x="776" y="509" width="1" height="1" fill="#f5495f"/><rect x="779" y="509" width="1" height="1" fill="#f5495f"/><rect x="782" y="509" width="1" height="1" fill="#f5495f"/><rect x="785" y="509" width="1" height="1" fill="#f5495f"/><rect x="788" y="509" width="1" height="1" fill="#f5495f"/><rect x="791" y="509" width="1" height="1" fill="#f5495f"/><rect x="794" y="509" width="1" height="1" fill="#f5495f"/><rect x="797" y="509" width="1" height="1" fill="#f5495f"/><rect x="800" y="509" width="1" height="1" fill="#f5495f"/><rect x="803" y="509" width="1" height="1" fill="#f5495f"/><rect x="806" y="509" width="1" height="1" fill="#f5495f"/><rect x="809" y="509" width="1" height="1" fill="#f5495f"/><rect x="812" y="509" width="1" height="1" fill="#f5495f"/><rect x="815" y="509" width="1" height="1" fill="#f5495f"/><rect x="818" y="509" width="1" height="1" fill="#f5495f"/><rect x="821" y="509" width="1" height="1" fill="#f5495f"/><rect x="824" y="509" width="1" height="1" fill="#f5495f"/><rect x="827" y="509" width="1" height="1" fill="#f5495f"/><rect x="830" y="509" width="1" height="1" fill="#f5495f"/><rect x="833" y="509" width="1" height="1" fill="#f5495f"/><rect x="836" y="509" width="1" height="1" fill="#f5495f"/><rect x="839" y="509" width="1" height="1" fill="#f5495f"/><rect x="842" y="509" width="1" height="1" fill="#f5495f"/><rect x="845" y="509" width="1" height="1" fill="#f5495f"/><rect x="848" y="509" width="1" height="1" fill="#f5495f"/><rect x="851" y="509" width="1" height="1" fill="#f5495f"/><rect x="854" y="509" width="1" height="1" fill="#f5495f"/><rect x="857" y="509" width="1" height="1" fill="#f5495f"/><rect x="860" y="509" width="1" height="1" fill="#f5495f"/><rect x="863" y="509" width="1" height="1" fill="#f5495f"/><rect x="866" y="509" width="1" height="1" fill="#f5495f"/><rect x="869" y="509" width="1" height="1" fill="#f5495f"/><rect x="872" y="509" width="1" height="1" fill="#f5495f"/><rect x="875" y="509" width="1" height="1" fill="#f5495f"/><rect x="878" y="509" width="1" height="1" fill="#f5495f"/><rect x="881" y="509" width="1" height="1" fill="#f5495f"/><rect x="884" y="509" width="1" height="1" fill="#f5495f"/><rect x="887" y="509" width="1" height="1" fill="#f5495f"/><rect x="890" y="509" width="1" height="1" fill="#f5495f"/><rect x="893" y="509" width="1" height="1" fill="#f5495f"/><rect x="896" y="509" width="1" height="1" fill="#f5495f"/><rect x="899" y="509" width="1" height="1" fill="#f5495f"/><rect x="902" y="509" width="1" height="1" fill="#f5495f"/><rect x="905" y="509" width="1" height="1" fill="#f5495f"/><rect x="908" y="509" width="1" height="1" fill="#f5495f"/><rect x="911" y="509" width="1" height="1" fill="#f5495f"/><rect x="914" y="509" width="1" height="1" fill="#f5495f"/><rect x="917" y="509" width="1" height="1" fill="#f5495f"/><rect x="920" y="509" width="1" height="1" fill="#f5495f"/><rect x="923" y="509" width="1" height="1" fill="#f5495f"/><rect x="926" y="509" width="1" height="1" fill="#f5495f"/><rect x="929" y="509" width="1" height="1" fill="#f5495f"/><rect x="932" y="509" width="1" height="1" fill="#f5495f"/><rect x="935" y="509" width="1" height="1" fill="#f5495f"/><rect x="938" y="509" width="1" height="1" fill="#f5495f"/><rect x="941" y="509" width="1" height="1" fill="#f5495f"/><rect x="944" y="509" width="1" height="1" fill="#f5495f"/><rect x="947" y="509" width="1" height="1" fill="#f5495f"/><rect x="950" y="509" width="1" height="1" fill="#f5495f"/><rect x="953" y="509" width="1" height="1" fill="#f5495f"/><rect x="956" y="509" width="1" height="1" fill="#f5495f"/><rect x="959" y="509" width="1" height="1" fill="#f5495f"/><rect x="962" y="509" width="1" height="1" fill="#f5495f"/><rect x="965" y="509" width="1" height="1" fill="#f5495f"/><rect x="968" y="509" width="1" height="1" fill="#f5495f"/><rect x="971" y="509" width="1" height="1" fill="#f5495f"/><rect x="974" y="509" width="1" height="1" fill="#f5495f"/><rect x="977" y="509" width="1" height="1" fill="#f5495f"/><rect x="980" y="509" width="1" height="1" fill="#f5495f"/><rect x="983" y="509" width="1" height="1" fill="#f5495f"/><rect x="986" y="509" width="1" height="1" fill="#f5495f"/><rect x="989" y="509" width="1" height="1" fill="#f5495f"/><rect x="992" y="509" width="1" height="1" fill="#f5495f"/><rect x="995" y="509" width="1" height="1" fill="#f5495f"/><rect x="998" y="509" width="1" height="1" fill="#f5495f"/><rect x="1001" y="509" width="1" height="1" fill="#f5495f"/><rect x="1004" y="509" width="1" height="1" fill="#f5495f"/><rect x="1007" y="509" width="1" height="1" fill="#f5495f"/><rect x="1010" y="509" width="1" height="1" fill="#f5495f"/><rect x="1013" y="509" width="1" height="1" fill="#f5495f"/><rect x="1016" y="509" width="1" height="1" fill="#f5495f"/><rect x="1019" y="509" width="1" height="1" fill="#f5495f"/><rect x="1022" y="509" width="1" height="1" fill="#f5495f"/><rect x="1025" y="509" width="1" height="1" fill="#f5495f"/><rect x="1028" y="509" width="1" height="1" fill="#f5495f"/><rect x="1031" y="509" width="1" height="1" fill="#f5495f"/><rect x="1034" y="509" width="1" height="1" fill="#f5495f"/><rect x="1037" y="509" width="1" height="1" fill="#f5495f"/><rect x="1040" y="509" width="1" height="1" fill="#f5495f"/><rect x="1043" y="509" width="1" height="1" fill="#f5495f"/><rect x="1046" y="509" width="1" height="1" fill="#f5495f"/><rect x="1049" y="509" width="1" height="1" fill="#f5495f"/><rect x="1052" y="509" width="1" height="1" fill="#f5495f"/><rect x="1055" y="509" width="1" height="1" fill="#f5495f"/><rect x="1058" y="509" width="1" height="1" fill="#f5495f"/><rect x="1061" y="509" width="1" height="1" fill="#f5495f"/><rect x="1064" y="509" width="1" height="1" fill="#f5495f"/><rect x="1067" y="509" width="1" height="1" fill="#f5495f"/><rect x="1070" y="509" width="1" height="1" fill="#f5495f"/><rect x="1073" y="509" width="1" height="1" fill="#f5495f"/><rect x="1076" y="509" width="1" height="1" fill="#f5495f"/><rect x="1079" y="509" width="1" height="1" fill="#f5495f"/><rect x="1082" y="509" width="1" height="1" fill="#f5495f"/><rect x="1085" y="509" width="1" height="1" fill="#f5495f"/><rect x="1088" y="509" width="1" height="1" fill="#f5495f"/><rect x="1091" y="509" width="1" height="1" fill="#f5495f"/><rect x="58" y="349" width="1" height="13" fill="#2abf86"/><rect x="56" y="350" width="5" height="7" fill="#2abf86"/><rect x="64" y="350" width="1" height="7" fill="#f5495f"/><rect x="62" y="350" width="5" height="7" fill="#f5495f"/><rect x="70" y="340" width="1" height="16" fill="#2abf86"/><rect x="68" y="343" width="5" height="10" fill="#2abf86"/><rect x="76" y="330" width="1" height="23" fill="#2abf86"/><rect x="74" y="330" width="5" height="11" fill="#2abf86"/><rect x="82" y="318" width="1" height="13" fill="#2abf86"/><rect x="80" y="330" width="5" height="1" fill="#2abf86"/><rect x="88" y="324" width="1" height="7" fill="#2abf86"/><rect x="86" y="324" width="5" height="7" fill="#2abf86"/><rect x="94" y="318" width="1" height="15" fill="#2abf86"/><rect x="92" y="324" width="5" height="7" fill="#2abf86"/><rect x="100" y="314" width="1" height="12" fill="#2abf86"/><rect x="98" y="322" width="5" height="4" fill="#2abf86"/><rect x="106" y="317" width="1" height="14" fill="#f5495f"/><rect x="104" y="321" width="5" height="10" fill="#f5495f"/><rect x="112" y="317" width="1" height="10" fill="#2abf86"/><rect x="110" y="317" width="5" height="8" fill="#2abf86"/><rect x="118" y="268" width="1" height="53" fill="#2abf86"/><rect x="116" y="281" width="5" height="40" fill="#2abf86"/><rect x="124" y="268" width="1" height="19" fill="#2abf86"/><rect x="122" y="274" width="5" height="10" fill="#2abf86"/><rect x="130" y="261" width="1" height="29" fill="#f5495f"/><rect x="128" y="271" width="5" height="17" fill="#f5495f"/><rect x="136" y="280" width="1" height="15" fill="#2abf86"/><rect x="134" y="287" width="5" height="1" fill="#2abf86"/><rect x="142" y="271" width="1" height="19" fill="#2abf86"/><rect x="140" y="280" width="5" height="7" fill="#2abf86"/><rect x="148" y="273" width="1" height="13" fill="#2abf86"/><rect x="146" y="277" width="5" height="4" fill="#2abf86"/><rect x="154" y="277" width="1" height="24" fill="#f5495f"/><rect x="152" y="277" width="5" height="24" fill="#f5495f"/><rect x="160" y="295" width="1" height="11" fill="#f5495f"/><rect x="158" y="300" width="5" height="6" fill="#f5495f"/><rect x="166" y="296" width="1" height="16" fill="#2abf86"/><rect x="164" y="296" width="5" height="10" fill="#2abf86"/><rect x="172" y="296" width="1" height="28" fill="#f5495f"/><rect x="170" y="302" width="5" height="11" fill="#f5495f"/><rect x="178" y="273" width="1" height="39" fill="#2abf86"/><rect x="176" y="292" width="5" height="15" fill="#2abf86"/><rect x="184" y="283" width="1" height="12" fill="#2abf86"/><rect x="182" y="284" width="5" height="6" fill="#2abf86"/><rect x="190" y="280" width="1" height="17" fill="#f5495f"/><rect x="188" y="284" width="5" height="4" fill="#f5495f"/><rect x="196" y="284" width="1" height="13" fill="#f5495f"/><rect x="194" y="287" width="5" height="6" fill="#f5495f"/><rect x="202" y="287" width="1" height="14" fill="#f5495f"/><rect x="200" y="289" width="5" height="12" fill="#f5495f"/><rect x="208" y="295" width="1" height="13" fill="#f5495f"/><rect x="206" y="295" width="5" height="5" fill="#f5495f"/><rect x="214" y="273" width="1" height="28" fill="#2abf86"/><rect x="212" y="275" width="5" height="26" fill="#2abf86"/><rect x="220" y="261" width="1" height="22" fill="#2abf86"/><rect x="218" y="274" width="5" height="7" fill="#2abf86"/><rect x="226" y="243" width="1" height="31" fill="#2abf86"/><rect x="224" y="250" width="5" height="15" fill="#2abf86"/><rect x="232" y="248" width="1" height="23" fill="#f5495f"/><rect x="230" y="264" width="5" height="4" fill="#f5495f"/><rect x="238" y="264" width="1" height="20" fill="#2abf86"/><rect x="236" y="264" width="5" height="4" fill="#2abf86"/><rect x="244" y="249" width="1" height="31" fill="#f5495f"/><rect x="242" y="265" width="5" height="14" fill="#f5495f"/><rect x="250" y="264" width="1" height="17" fill="#2abf86"/><rect x="248" y="273" width="5" height="8" fill="#2abf86"/><rect x="256" y="265" width="1" height="18" fill="#f5495f"/><rect x="254" y="275" width="5" height="3" fill="#f5495f"/><rect x="262" y="268" width="1" height="12" fill="#f5495f"/><rect x="260" y="274" width="5" height="4" fill="#f5495f"/><rect x="268" y="267" width="1" height="19" fill="#f5495f"/><rect x="266" y="280" width="5" height="2" fill="#f5495f"/><rect x="274" y="275" width="1" height="20" fill="#f5495f"/><rect x="272" y="275" width="5" height="7" fill="#f5495f"/><rect x="280" y="284" width="1" height="21" fill="#f5495f"/><rect x="278" y="284" width="5" height="14" fill="#f5495f"/><rect x="286" y="292" width="1" height="15" fill="#f5495f"/><rect x="284" y="300" width="5" height="7" fill="#f5495f"/><rect x="292" y="302" width="1" height="29" fill="#f5495f"/><rect x="290" y="302" width="5" height="26" fill="#f5495f"/><rect x="298" y="311" width="1" height="23" fill="#2abf86"/><rect x="296" y="322" width="5" height="7" fill="#2abf86"/><rect x="304" y="322" width="1" height="10" fill="#2abf86"/><rect x="302" y="330" width="5" height="2" fill="#2abf86"/><rect x="310" y="315" width="1" height="15" fill="#2abf86"/><rect x="308" y="315" width="5" height="10" fill="#2abf86"/><rect x="316" y="309" width="1" height="16" fill="#2abf86"/><rect x="314" y="317" width="5" height="8" fill="#2abf86"/><rect x="322" y="309" width="1" height="9" fill="#2abf86"/><rect x="320" y="314" width="5" height="4" fill="#2abf86"/><rect x="328" y="308" width="1" height="10" fill="#2abf86"/><rect x="326" y="309" width="5" height="9" fill="#2abf86"/><rect x="334" y="299" width="1" height="21" fill="#f5495f"/><rect x="332" y="309" width="5" height="6" fill="#f5495f"/><rect x="340" y="314" width="1" height="7" fill="#f5495f"/><rect x="338" y="318" width="5" height="3" fill="#f5495f"/><rect x="346" y="314" width="1" height="7" fill="#2abf86"/><rect x="344" y="318" width="5" height="3" fill="#2abf86"/><rect x="352" y="306" width="1" height="18" fill="#2abf86"/><rect x="350" y="314" width="5" height="1" fill="#2abf86"/><rect x="358" y="309" width="1" height="30" fill="#f5495f"/><rect x="356" y="314" width="5" height="21" fill="#f5495f"/><rect x="364" y="327" width="1" height="44" fill="#f5495f"/><rect x="362" y="327" width="5" height="39" fill="#f5495f"/><rect x="370" y="346" width="1" height="21" fill="#2abf86"/><rect x="368" y="350" width="5" height="15" fill="#2abf86"/><rect x="376" y="346" width="1" height="19" fill="#f5495f"/><rect x="374" y="346" width="5" height="17" fill="#f5495f"/><rect x="382" y="362" width="1" height="19" fill="#f5495f"/><rect x="380" y="362" width="5" height="14" fill="#f5495f"/><rect x="388" y="371" width="1" height="7" fill="#f5495f"/><rect x="386" y="375" width="5" height="3" fill="#f5495f"/><rect x="394" y="375" width="1" height="22" fill="#f5495f"/><rect x="392" y="377" width="5" height="20" fill="#f5495f"/><rect x="400" y="392" width="1" height="5" fill="#2abf86"/><rect x="398" y="393" width="5" height="4" fill="#2abf86"/><rect x="406" y="375" width="1" height="19" fill="#2abf86"/><rect x="404" y="381" width="5" height="13" fill="#2abf86"/><rect x="412" y="359" width="1" height="26" fill="#2abf86"/><rect x="410" y="362" width="5" height="23" fill="#2abf86"/><rect x="418" y="342" width="1" height="27" fill="#2abf86"/><rect x="416" y="347" width="5" height="22" fill="#2abf86"/><rect x="424" y="352" width="1" height="7" fill="#2abf86"/><rect x="422" y="352" width="5" height="7" fill="#2abf86"/><rect x="430" y="352" width="1" height="6" fill="#f5495f"/><rect x="428" y="352" width="5" height="5" fill="#f5495f"/><rect x="436" y="355" width="1" height="9" fill="#f5495f"/><rect x="434" y="355" width="5" height="4" fill="#f5495f"/><rect x="442" y="353" width="1" height="16" fill="#f5495f"/><rect x="440" y="362" width="5" height="7" fill="#f5495f"/><rect x="448" y="345" width="1" height="20" fill="#2abf86"/><rect x="446" y="352" width="5" height="11" fill="#2abf86"/><rect x="454" y="345" width="1" height="7" fill="#f5495f"/><rect x="452" y="345" width="5" height="5" fill="#f5495f"/><rect x="460" y="339" width="1" height="14" fill="#2abf86"/><rect x="458" y="349" width="5" height="1" fill="#2abf86"/><rect x="466" y="349" width="1" height="10" fill="#f5495f"/><rect x="464" y="349" width="5" height="5" fill="#f5495f"/><rect x="472" y="356" width="1" height="4" fill="#2abf86"/><rect x="470" y="359" width="5" height="1" fill="#2abf86"/><rect x="478" y="343" width="1" height="17" fill="#2abf86"/><rect x="476" y="346" width="5" height="14" fill="#2abf86"/><rect x="484" y="346" width="1" height="15" fill="#f5495f"/><rect x="482" y="347" width="5" height="3" fill="#f5495f"/><rect x="490" y="347" width="1" height="7" fill="#2abf86"/><rect x="488" y="353" width="5" height="1" fill="#2abf86"/><rect x="496" y="343" width="1" height="18" fill="#2abf86"/><rect x="494" y="346" width="5" height="8" fill="#2abf86"/><rect x="502" y="333" width="1" height="19" fill="#2abf86"/><rect x="500" y="346" width="5" height="1" fill="#2abf86"/><rect x="508" y="340" width="1" height="34" fill="#f5495f"/><rect x="506" y="345" width="5" height="27" fill="#f5495f"/><rect x="514" y="353" width="1" height="19" fill="#2abf86"/><rect x="512" y="355" width="5" height="11" fill="#2abf86"/><rect x="520" y="345" width="1" height="19" fill="#2abf86"/><rect x="518" y="345" width="5" height="11" fill="#2abf86"/><rect x="526" y="345" width="1" height="8" fill="#2abf86"/><rect x="524" y="350" width="5" height="3" fill="#2abf86"/><rect x="532" y="347" width="1" height="11" fill="#f5495f"/><rect x="530" y="350" width="5" height="4" fill="#f5495f"/><rect x="538" y="339" width="1" height="17" fill="#2abf86"/><rect x="536" y="339" width="5" height="15" fill="#2abf86"/><rect x="544" y="327" width="1" height="16" fill="#2abf86"/><rect x="542" y="333" width="5" height="7" fill="#2abf86"/><rect x="550" y="321" width="1" height="25" fill="#2abf86"/><rect x="548" y="330" width="5" height="4" fill="#2abf86"/><rect x="556" y="320" width="1" height="30" fill="#2abf86"/><rect x="554" y="337" width="5" height="1" fill="#2abf86"/><rect x="562" y="236" width="1" height="107" fill="#2abf86"/><rect x="560" y="311" width="5" height="21" fill="#2abf86"/><rect x="568" y="287" width="1" height="34" fill="#f5495f"/><rect x="566" y="287" width="5" height="28" fill="#f5495f"/><rect x="574" y="302" width="1" height="16" fill="#2abf86"/><rect x="572" y="311" width="5" height="4" fill="#2abf86"/><rect x="580" y="297" width="1" height="30" fill="#f5495f"/><rect x="578" y="303" width="5" height="13" fill="#f5495f"/><rect x="586" y="306" width="1" height="13" fill="#2abf86"/><rect x="584" y="306" width="5" height="13" fill="#2abf86"/><rect x="592" y="305" width="1" height="10" fill="#2abf86"/><rect x="590" y="311" width="5" height="4" fill="#2abf86"/><rect x="598" y="283" width="1" height="32" fill="#2abf86"/><rect x="596" y="296" width="5" height="19" fill="#2abf86"/><rect x="604" y="283" width="1" height="16" fill="#f5495f"/><rect x="602" y="289" width="5" height="9" fill="#f5495f"/><rect x="610" y="292" width="1" height="13" fill="#f5495f"/><rect x="608" y="292" width="5" height="8" fill="#f5495f"/><rect x="616" y="299" width="1" height="13" fill="#f5495f"/><rect x="614" y="305" width="5" height="7" fill="#f5495f"/><rect x="622" y="293" width="1" height="18" fill="#f5495f"/><rect x="620" y="305" width="5" height="2" fill="#f5495f"/><rect x="628" y="300" width="1" height="20" fill="#2abf86"/><rect x="626" y="306" width="5" height="1" fill="#2abf86"/><rect x="634" y="297" width="1" height="25" fill="#2abf86"/><rect x="632" y="305" width="5" height="4" fill="#2abf86"/><rect x="640" y="278" width="1" height="27" fill="#2abf86"/><rect x="638" y="286" width="5" height="18" fill="#2abf86"/><rect x="646" y="273" width="1" height="14" fill="#2abf86"/><rect x="644" y="278" width="5" height="9" fill="#2abf86"/><rect x="652" y="273" width="1" height="14" fill="#2abf86"/><rect x="650" y="275" width="5" height="4" fill="#2abf86"/><rect x="658" y="268" width="1" height="15" fill="#f5495f"/><rect x="656" y="275" width="5" height="6" fill="#f5495f"/><rect x="664" y="274" width="1" height="10" fill="#f5495f"/><rect x="662" y="280" width="5" height="4" fill="#f5495f"/><rect x="670" y="277" width="1" height="19" fill="#f5495f"/><rect x="668" y="280" width="5" height="4" fill="#f5495f"/><rect x="676" y="283" width="1" height="7" fill="#f5495f"/><rect x="674" y="283" width="5" height="2" fill="#f5495f"/><rect x="682" y="283" width="1" height="7" fill="#f5495f"/><rect x="680" y="284" width="5" height="6" fill="#f5495f"/><rect x="688" y="283" width="1" height="11" fill="#f5495f"/><rect x="686" y="287" width="5" height="7" fill="#f5495f"/><rect x="694" y="287" width="1" height="16" fill="#f5495f"/><rect x="692" y="293" width="5" height="10" fill="#f5495f"/><rect x="700" y="296" width="1" height="19" fill="#f5495f"/><rect x="698" y="302" width="5" height="11" fill="#f5495f"/><rect x="706" y="311" width="1" height="9" fill="#2abf86"/><rect x="704" y="312" width="5" height="1" fill="#2abf86"/><rect x="712" y="312" width="1" height="21" fill="#f5495f"/><rect x="710" y="314" width="5" height="8" fill="#f5495f"/><rect x="718" y="314" width="1" height="23" fill="#f5495f"/><rect x="716" y="325" width="5" height="10" fill="#f5495f"/><rect x="724" y="325" width="1" height="12" fill="#2abf86"/><rect x="722" y="327" width="5" height="5" fill="#2abf86"/><rect x="730" y="327" width="1" height="10" fill="#f5495f"/><rect x="728" y="334" width="5" height="3" fill="#f5495f"/><rect x="736" y="330" width="1" height="10" fill="#f5495f"/><rect x="734" y="330" width="5" height="4" fill="#f5495f"/><rect x="742" y="330" width="1" height="10" fill="#2abf86"/><rect x="740" y="333" width="5" height="7" fill="#2abf86"/><rect x="748" y="330" width="1" height="13" fill="#2abf86"/><rect x="746" y="336" width="5" height="4" fill="#2abf86"/><rect x="754" y="325" width="1" height="21" fill="#2abf86"/><rect x="752" y="325" width="5" height="10" fill="#2abf86"/><rect x="760" y="325" width="1" height="7" fill="#f5495f"/><rect x="758" y="330" width="5" height="2" fill="#f5495f"/><rect x="766" y="309" width="1" height="21" fill="#2abf86"/><rect x="764" y="309" width="5" height="17" fill="#2abf86"/><rect x="772" y="309" width="1" height="13" fill="#f5495f"/><rect x="770" y="309" width="5" height="9" fill="#f5495f"/><rect x="778" y="305" width="1" height="18" fill="#2abf86"/><rect x="776" y="315" width="5" height="8" fill="#2abf86"/><rect x="784" y="309" width="1" height="19" fill="#f5495f"/><rect x="782" y="309" width="5" height="14" fill="#f5495f"/><rect x="790" y="317" width="1" height="13" fill="#2abf86"/><rect x="788" y="322" width="5" height="7" fill="#2abf86"/><rect x="796" y="322" width="1" height="6" fill="#2abf86"/><rect x="794" y="322" width="5" height="1" fill="#2abf86"/><rect x="802" y="312" width="1" height="16" fill="#2abf86"/><rect x="800" y="321" width="5" height="2" fill="#2abf86"/><rect x="808" y="314" width="1" height="6" fill="#f5495f"/><rect x="806" y="314" width="5" height="5" fill="#f5495f"/><rect x="814" y="295" width="1" height="25" fill="#2abf86"/><rect x="812" y="296" width="5" height="19" fill="#2abf86"/><rect x="820" y="295" width="1" height="20" fill="#f5495f"/><rect x="818" y="295" width="5" height="20" fill="#f5495f"/><rect x="826" y="303" width="1" height="18" fill="#2abf86"/><rect x="824" y="306" width="5" height="15" fill="#2abf86"/><rect x="832" y="306" width="1" height="6" fill="#2abf86"/><rect x="830" y="308" width="5" height="1" fill="#2abf86"/><rect x="838" y="306" width="1" height="6" fill="#2abf86"/><rect x="836" y="306" width="5" height="4" fill="#2abf86"/><rect x="844" y="306" width="1" height="52" fill="#f5495f"/><rect x="842" y="312" width="5" height="44" fill="#f5495f"/><rect x="850" y="381" width="1" height="131" fill="#f5495f"/><rect x="848" y="381" width="5" height="70" fill="#f5495f"/><rect x="856" y="444" width="1" height="18" fill="#f5495f"/><rect x="854" y="444" width="5" height="12" fill="#f5495f"/><rect x="862" y="444" width="1" height="16" fill="#2abf86"/><rect x="860" y="446" width="5" height="14" fill="#2abf86"/><rect x="868" y="440" width="1" height="23" fill="#f5495f"/><rect x="866" y="444" width="5" height="6" fill="#f5495f"/><rect x="874" y="436" width="1" height="18" fill="#2abf86"/><rect x="872" y="452" width="5" height="2" fill="#2abf86"/><rect x="880" y="447" width="1" height="6" fill="#2abf86"/><rect x="878" y="452" width="5" height="1" fill="#2abf86"/><rect x="886" y="443" width="1" height="16" fill="#2abf86"/><rect x="884" y="450" width="5" height="3" fill="#2abf86"/><rect x="892" y="428" width="1" height="21" fill="#2abf86"/><rect x="890" y="437" width="5" height="8" fill="#2abf86"/><rect x="898" y="431" width="1" height="15" fill="#2abf86"/><rect x="896" y="433" width="5" height="4" fill="#2abf86"/><rect x="904" y="433" width="1" height="7" fill="#2abf86"/><rect x="902" y="439" width="5" height="1" fill="#2abf86"/><rect x="910" y="428" width="1" height="13" fill="#f5495f"/><rect x="908" y="434" width="5" height="7" fill="#f5495f"/><rect x="916" y="434" width="1" height="15" fill="#2abf86"/><rect x="914" y="440" width="5" height="1" fill="#2abf86"/><rect x="922" y="439" width="1" height="7" fill="#2abf86"/><rect x="920" y="439" width="5" height="2" fill="#2abf86"/><rect x="928" y="428" width="1" height="16" fill="#2abf86"/><rect x="926" y="431" width="5" height="9" fill="#2abf86"/><rect x="934" y="425" width="1" height="13" fill="#2abf86"/><rect x="932" y="425" width="5" height="13" fill="#2abf86"/><rect x="940" y="425" width="1" height="7" fill="#2abf86"/><rect x="938" y="427" width="5" height="5" fill="#2abf86"/><rect x="946" y="418" width="1" height="13" fill="#2abf86"/><rect x="944" y="427" width="5" height="2" fill="#2abf86"/><rect x="952" y="421" width="1" height="6" fill="#2abf86"/><rect x="950" y="421" width="5" height="1" fill="#2abf86"/><rect x="958" y="421" width="1" height="6" fill="#2abf86"/><rect x="956" y="421" width="5" height="1" fill="#2abf86"/><rect x="964" y="421" width="1" height="7" fill="#f5495f"/><rect x="962" y="421" width="5" height="7" fill="#f5495f"/><rect x="970" y="421" width="1" height="7" fill="#2abf86"/><rect x="968" y="427" width="5" height="1" fill="#2abf86"/><rect x="976" y="422" width="1" height="19" fill="#f5495f"/><rect x="974" y="422" width="5" height="15" fill="#f5495f"/><rect x="982" y="430" width="1" height="11" fill="#f5495f"/><rect x="980" y="436" width="5" height="5" fill="#f5495f"/><rect x="988" y="430" width="1" height="23" fill="#2abf86"/><rect x="986" y="430" width="5" height="21" fill="#2abf86"/><rect x="994" y="431" width="1" height="13" fill="#f5495f"/><rect x="992" y="436" width="5" height="8" fill="#f5495f"/><rect x="1000" y="430" width="1" height="14" fill="#2abf86"/><rect x="998" y="430" width="5" height="14" fill="#2abf86"/><rect x="1006" y="421" width="1" height="16" fill="#2abf86"/><rect x="1004" y="430" width="5" height="7" fill="#2abf86"/><rect x="1012" y="422" width="1" height="8" fill="#f5495f"/><rect x="1010" y="422" width="5" height="6" fill="#f5495f"/><rect x="1018" y="430" width="1" height="7" fill="#f5495f"/><rect x="1016" y="430" width="5" height="4" fill="#f5495f"/><rect x="1024" y="444" width="1" height="58" fill="#f5495f"/><rect x="1022" y="444" width="5" height="43" fill="#f5495f"/><rect x="1030" y="472" width="1" height="38" fill="#f5495f"/><rect x="1028" y="486" width="5" height="24" fill="#f5495f"/></svg>
<span class="t" style="left:65.70px;top:207.00px;font-size:15.8px;line-height:20px;color:#8d9099;letter-spacing:-0.211px;">IQ/USDT · 1h · GATE</span>
<span class="t" style="left:222.50px;top:210.00px;font-size:13px;line-height:17px;color:#8d9099;">O</span>
<span class="t" style="left:233.70px;top:210.00px;font-size:13px;line-height:17px;color:#f5495f;letter-spacing:-0.132px;">0.001579</span>
<span class="t" style="left:293.60px;top:210.00px;font-size:13px;line-height:17px;color:#8d9099;">H</span>
<span class="t" style="left:304.00px;top:210.00px;font-size:13px;line-height:17px;color:#f5495f;letter-spacing:-0.132px;">0.001588</span>
<span class="t" style="left:364.40px;top:210.00px;font-size:13px;line-height:17px;color:#8d9099;">L</span>
<span class="t" style="left:372.00px;top:210.00px;font-size:13px;line-height:17px;color:#f5495f;letter-spacing:-0.189px;">0.001563</span>
<span class="t" style="left:432.40px;top:210.00px;font-size:13px;line-height:17px;color:#8d9099;">C</span>
<span class="t" style="left:442.00px;top:210.00px;font-size:13px;line-height:17px;color:#f5495f;letter-spacing:0.111px;">0.001563</span>
<span class="t" style="left:503.00px;top:210.00px;font-size:13px;line-height:17px;color:#f5495f;letter-spacing:-0.016px;">-0.000017 (−1.01%)</span>
<span class="t" style="left:65.30px;top:549.00px;font-size:13px;line-height:17px;color:#8d9099;letter-spacing:-0.133px;">Volume</span>
<span class="t" style="left:116.50px;top:549.00px;font-size:13px;line-height:17px;color:#f5495f;letter-spacing:-0.159px;">111.63 K</span>
<span class="t" style="left:1101.10px;top:226.50px;font-size:12px;line-height:16px;color:#8d9099;letter-spacing:-0.022px;">0.001750</span>
<span class="t" style="left:1101.10px;top:300.00px;font-size:12px;line-height:16px;color:#8d9099;letter-spacing:-0.022px;">0.001700</span>
<span class="t" style="left:1101.10px;top:373.50px;font-size:12px;line-height:16px;color:#8d9099;letter-spacing:-0.022px;">0.001650</span>
<span class="t" style="left:1101.10px;top:447.00px;font-size:12px;line-height:16px;color:#8d9099;letter-spacing:-0.022px;">0.001600</span>
<span class="t" style="left:1101.10px;top:520.50px;font-size:12px;line-height:16px;color:#8d9099;letter-spacing:-0.022px;">0.001550</span>
<span class="t" style="left:1101.30px;top:539.00px;font-size:11.5px;line-height:16px;color:#8d9099;letter-spacing:-0.215px;">1.2 M</span>
<span class="t" style="left:1101.30px;top:571.50px;font-size:11.7px;line-height:16px;color:#8d9099;letter-spacing:-0.219px;">800 K</span>
<span class="t" style="left:1101.30px;top:603.00px;font-size:11.7px;line-height:16px;color:#8d9099;letter-spacing:-0.219px;">400 K</span>
<div class="r" style="left:1094px;top:501px;width:63px;height:17px;background:#f5495f;border-radius:0 2px 2px 0;"></div>
<span class="t" style="left:1101.10px;top:501.50px;font-size:12px;line-height:16px;color:#fff;letter-spacing:-0.022px;">0.001563</span>
<span class="t" style="left:75.90px;top:648.50px;font-size:12px;line-height:16px;color:#8d9099;font-weight:700;letter-spacing:-0.148px;">14</span>
<span class="t" style="left:219.90px;top:648.50px;font-size:12px;line-height:16px;color:#8d9099;font-weight:700;letter-spacing:-0.148px;">15</span>
<span class="t" style="left:363.90px;top:648.50px;font-size:12px;line-height:16px;color:#8d9099;font-weight:700;letter-spacing:-0.148px;">16</span>
<span class="t" style="left:507.90px;top:648.50px;font-size:12px;line-height:16px;color:#8d9099;font-weight:700;letter-spacing:-0.148px;">17</span>
<span class="t" style="left:651.90px;top:648.50px;font-size:12px;line-height:16px;color:#8d9099;font-weight:700;letter-spacing:-0.148px;">18</span>
<span class="t" style="left:795.90px;top:648.50px;font-size:12px;line-height:16px;color:#8d9099;font-weight:700;letter-spacing:-0.148px;">19</span>
<span class="t" style="left:939.90px;top:648.50px;font-size:12px;line-height:16px;color:#8d9099;font-weight:700;letter-spacing:-0.148px;">20</span>
<div class="r" style="left:1070px;top:644px;width:23px;height:18px;overflow:hidden;"><span class="t" style="left:13.500px;top:4.500px;font-size:12px;line-height:16px;color:#8d9099;font-weight:700;">21</span></div>
<svg class="r" style="left:1121px;top:649px" width="17" height="17" viewBox="0 0 17 17" fill="none" stroke="#15171a" stroke-width="1.300"><path d="M1.200 8.500L4.800 2.200h7.400l3.600 6.300-3.600 6.300H4.800z"/><circle cx="8.500" cy="8.500" r="2.100"/></svg>
<div class="r" style="left:67.700px;top:596.900px;width:33.800px;height:33.800px;border-radius:50%;background:#fff;box-shadow:0 0 2px rgba(0,0,0,.22);"></div>
<svg class="r" style="left:74px;top:609.300px" width="21.600" height="11" viewBox="0 0 37 19"><path d="M0 0h14v19H8V6H0z" fill="#111"/><circle cx="20.500" cy="3.200" r="3.100" fill="#111"/><path d="M25.800 0h10.800L30.800 19h-9.900z" fill="#111"/></svg>
<div class="r" style="left:46px;top:586px;width:9px;height:26px;border:1px solid #e6e8ee;border-radius:3px;background:#fff;box-sizing:border-box;"></div>
<svg class="r" style="left:48px;top:595px" width="5" height="8" viewBox="0 0 5 8" fill="none" stroke="#c2c5cf" stroke-width="1"><path d="M4 .5L1 4l3 3.500"/></svg>
<div class="r" style="left:8px;top:502px;width:36px;height:1px;background:#e6e8ee;"></div>
<div class="r" style="left:8px;top:587px;width:36px;height:1px;background:#e6e8ee;"></div>
<svg class="r" style="left:12.0px;top:212.0px" width="28" height="28" viewBox="0 0 28 28" fill="none" stroke="#2962ff" stroke-width="1.1"><path d="M14.500 3v8M14.500 18v8M3 14.500h8M18 14.500h8" stroke-width="1.150" shape-rendering="crispEdges"/></svg>
<svg class="r" style="left:12.0px;top:248.0px" width="28" height="28" viewBox="0 0 28 28" fill="none" stroke="#50535e" stroke-width="1.1"><circle cx="5.500" cy="22.500" r="2"/><circle cx="22.500" cy="5.500" r="2"/><path d="M7 21L21 7"/></svg>
<svg class="r" style="left:12.0px;top:283.0px" width="28" height="28" viewBox="0 0 28 28" fill="none" stroke="#50535e" stroke-width="1.1"><path d="M3.200 5.500h21.500M3.200 11.500h19.300M3.200 17.500h21.500M5.400 23.500h19.300" shape-rendering="crispEdges" stroke-width="1"/><circle cx="24.700" cy="11.500" r="2" fill="#fff"/><circle cx="3.200" cy="23.500" r="2" fill="#fff"/></svg>
<svg class="r" style="left:12.0px;top:319.0px" width="28" height="28" viewBox="0 0 28 28" fill="none" stroke="#50535e" stroke-width="1.1"><path d="M8.200 6.300L5.400 23.400M8.200 6.300l4.400 6.800M12.600 13.100l7.700-5.700M20.300 7.400l3.300 12.700M12.600 13.100l11 7M12.600 13.100L5.400 23.400"/><circle cx="8.200" cy="6.300" r="2" fill="#fff"/><circle cx="20.300" cy="7.400" r="2" fill="#fff"/><circle cx="12.600" cy="13.100" r="1.900" fill="#fff"/><circle cx="5.400" cy="23.400" r="2" fill="#fff"/><circle cx="23.600" cy="20.100" r="2" fill="#fff"/></svg>
<svg class="r" style="left:12.0px;top:356.0px" width="28" height="28" viewBox="0 0 28 28" fill="none" stroke="#50535e" stroke-width="1.1"><path d="M6.300 6.500H23.600M6.300 16.500H20.500M6.300 22.500H23.600" shape-rendering="crispEdges" stroke-width="1"/><circle cx="4.300" cy="6.500" r="2" fill="#fff"/><circle cx="4.300" cy="16.500" r="2" fill="#fff"/><circle cx="4.300" cy="22.500" r="2" fill="#fff"/><circle cx="22.500" cy="16.500" r="2" fill="#fff"/><path d="M7.100 13.800l15.400-5.500" stroke-dasharray="1.500 1.700"/></svg>
<svg class="r" style="left:12.0px;top:392.0px" width="28" height="28" viewBox="0 0 28 28" fill="none" stroke="#50535e" stroke-width="1.1"><path d="M2.800 22C5 16 8 12 11.500 11.500c3.500 0 6 2 5.500 4.500C16.500 19.500 12 22.500 2.800 22z"/><path d="M19.200 7.200c-.5 2.500.5 4 2 4.300 2 0 4.500-2.500 6.800-5.400"/></svg>
<svg class="r" style="left:12.0px;top:428.0px" width="28" height="28" viewBox="0 0 28 28" fill="none" stroke="#50535e" stroke-width="1.1"><path d="M7.800 8.500V5.700h13.800V8.500M14.700 5.700V22M12.200 22h5"/></svg>
<svg class="r" style="left:12.0px;top:464.0px" width="28" height="28" viewBox="0 0 28 28" fill="none" stroke="#50535e" stroke-width="1.1"><circle cx="13.800" cy="14" r="10.500"/><path d="M10.600 11.800h2M11.600 10.800v2M15.700 11.800h2M16.700 10.800v2" stroke-width=".9"/><path d="M10.400 15.500c.8 2 2 2.900 3.400 2.900s2.600-.9 3.400-2.900"/></svg>
<svg class="r" style="left:12.0px;top:513.0px" width="28" height="28" viewBox="0 0 28 28" fill="none" stroke="#50535e" stroke-width="1.1"><path d="M2.200 19.700L21.600 1.700 26.100 7.500 8.100 26z" stroke-linejoin="round"/><path d="M5.43 16.70l1.59 2.05M8.67 13.70l1.59 2.05M11.90 10.70l1.59 2.05M15.13 7.70l1.59 2.05M18.37 4.70l1.59 2.05"/></svg>
<svg class="r" style="left:12.0px;top:548.0px" width="28" height="28" viewBox="0 0 28 28" fill="none" stroke="#50535e" stroke-width="1.1"><circle cx="12.300" cy="13.300" r="8.200"/><path d="M18.200 19.200L22.300 23M8.300 13.300h8M12.300 9.300v8"/></svg>
<svg class="r" style="left:12.0px;top:597.0px" width="28" height="28" viewBox="0 0 28 28" fill="none" stroke="#50535e" stroke-width="1.3"><path d="M6.500 23.300V13.200a7.500 7.500 0 0 1 15 0V23.300h-4.800V13.200a2.700 2.700 0 0 0-5.400 0V23.300z"/><path d="M6.500 19h4.800M16.700 19h4.800"/></svg>
<svg class="r" style="left:12.0px;top:634.0px" width="28" height="28" viewBox="0 0 28 28" fill="none" stroke="#50535e" stroke-width="1.3"><path d="M3.200 19.700L4 15.200 15.200 4.600a2.300 2.300 0 0 1 3.300 3.200L7.500 18.800z"/><path d="M13.600 6.100l3.300 3.300M4 15.200l3.500 3.600"/><rect x="15.700" y="18.400" width="7.800" height="6" rx="1" fill="#fff"/><path d="M17.500 18.400v-2.400a2.100 2.100 0 0 1 4.100-.7"/><circle cx="19.600" cy="21.400" r=".6" fill="#50535e"/></svg>
</div></body></html>
